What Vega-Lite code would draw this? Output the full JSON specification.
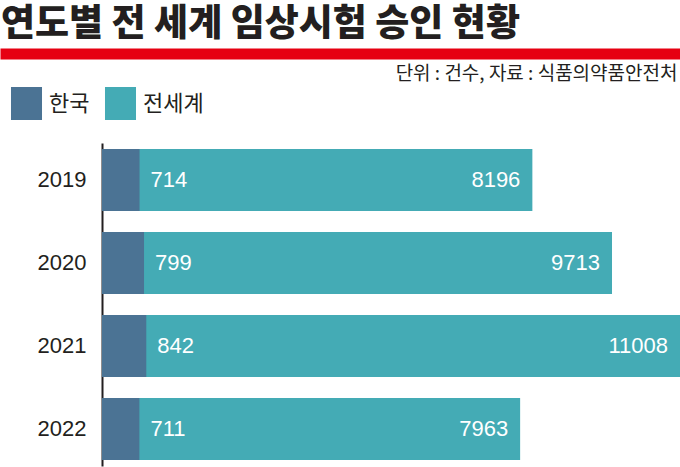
{
  "$schema": "https://vega.github.io/schema/vega-lite/v6.json",
  "autosize": "none",
  "width": 680,
  "height": 323,
  "padding": {"left": 0, "right": 0, "top": 143, "bottom": 1},
  "background": "white",
  "config": {"view": {"stroke": null}, "font": "Noto Sans CJK KR"},
  "title": {
    "text": "연도별 전 세계 임상시험 승인 현황",
    "anchor": "start",
    "frame": "bounds",
    "fontSize": 37,
    "fontWeight": 900,
    "font": "Noto Sans CJK KR",
    "color": "#231f20",
    "offset": 10,
    "dx": 1
  },
  "data": {
    "values": [
      {"year": "2019", "region": "전세계", "value": 8196},
      {"year": "2020", "region": "전세계", "value": 9713},
      {"year": "2021", "region": "전세계", "value": 11008},
      {"year": "2022", "region": "전세계", "value": 7963},
      {"year": "2019", "region": "한국", "value": 714},
      {"year": "2020", "region": "한국", "value": 799},
      {"year": "2021", "region": "한국", "value": 842},
      {"year": "2022", "region": "한국", "value": 711}
    ]
  },
  "encoding": {
    "y": {
      "field": "year",
      "type": "nominal",
      "scale": {"paddingInner": 0.253, "paddingOuter": 0.072},
      "axis": {
        "title": null,
        "orient": "left",
        "offset": -102,
        "domainColor": "#231f20",
        "domainWidth": 2,
        "ticks": false,
        "grid": false,
        "labelPadding": 16,
        "labelFontSize": 22,
        "labelFont": "Liberation Sans",
        "labelColor": "#231f20"
      }
    }
  },
  "layer": [
    {
      "mark": {"type": "bar"},
      "encoding": {
        "x": {
          "field": "value",
          "type": "quantitative",
          "scale": {"domain": [-1944, 11008], "nice": false, "zero": false},
          "axis": {
            "orient": "top",
            "offset": 89.5,
            "domainColor": "#e60012",
            "domainWidth": 11,
            "ticks": false,
            "labels": false,
            "grid": false,
            "title": "단위 : 건수, 자료 : 식품의약품안전처",
            "titleFont": "Noto Sans CJK KR",
            "titleFontSize": 19,
            "titleFontWeight": "normal",
            "titleColor": "#231f20",
            "titleAnchor": "end",
            "titleAlign": "right",
            "titleX": 677,
            "titleY": 20,
            "titleBaseline": "middle"
          }
        },
        "x2": {"datum": 0},
        "order": {"field": "region", "type": "nominal"},
        "color": {
          "field": "region",
          "type": "nominal",
          "scale": {"domain": ["한국", "전세계"], "range": ["#4b7394", "#44abb5"]},
          "legend": {
            "orient": "none",
            "legendX": 10,
            "legendY": -56,
            "direction": "horizontal",
            "title": null,
            "symbolType": "M-0.94,-1H0.94V1H-0.94Z",
            "symbolSize": 1089,
            "symbolStrokeWidth": 0,
            "symbolOpacity": 1,
            "labelFontSize": 22,
            "labelFont": "Noto Sans CJK KR",
            "labelColor": "#231f20",
            "labelOffset": 6,
            "columnPadding": 14
          }
        }
      }
    },
    {
      "transform": [{"filter": "datum.region === '한국'"}],
      "mark": {"type": "text", "align": "left", "baseline": "middle", "dx": 11, "color": "white", "fontSize": 22, "font": "Liberation Sans"},
      "encoding": {
        "x": {"field": "value", "type": "quantitative"},
        "text": {"field": "value", "type": "quantitative", "format": "d"}
      }
    },
    {
      "transform": [{"filter": "datum.region === '전세계'"}],
      "mark": {"type": "text", "align": "right", "baseline": "middle", "dx": -12, "color": "white", "fontSize": 22, "font": "Liberation Sans"},
      "encoding": {
        "x": {"field": "value", "type": "quantitative"},
        "text": {"field": "value", "type": "quantitative", "format": "d"}
      }
    }
  ]
}
